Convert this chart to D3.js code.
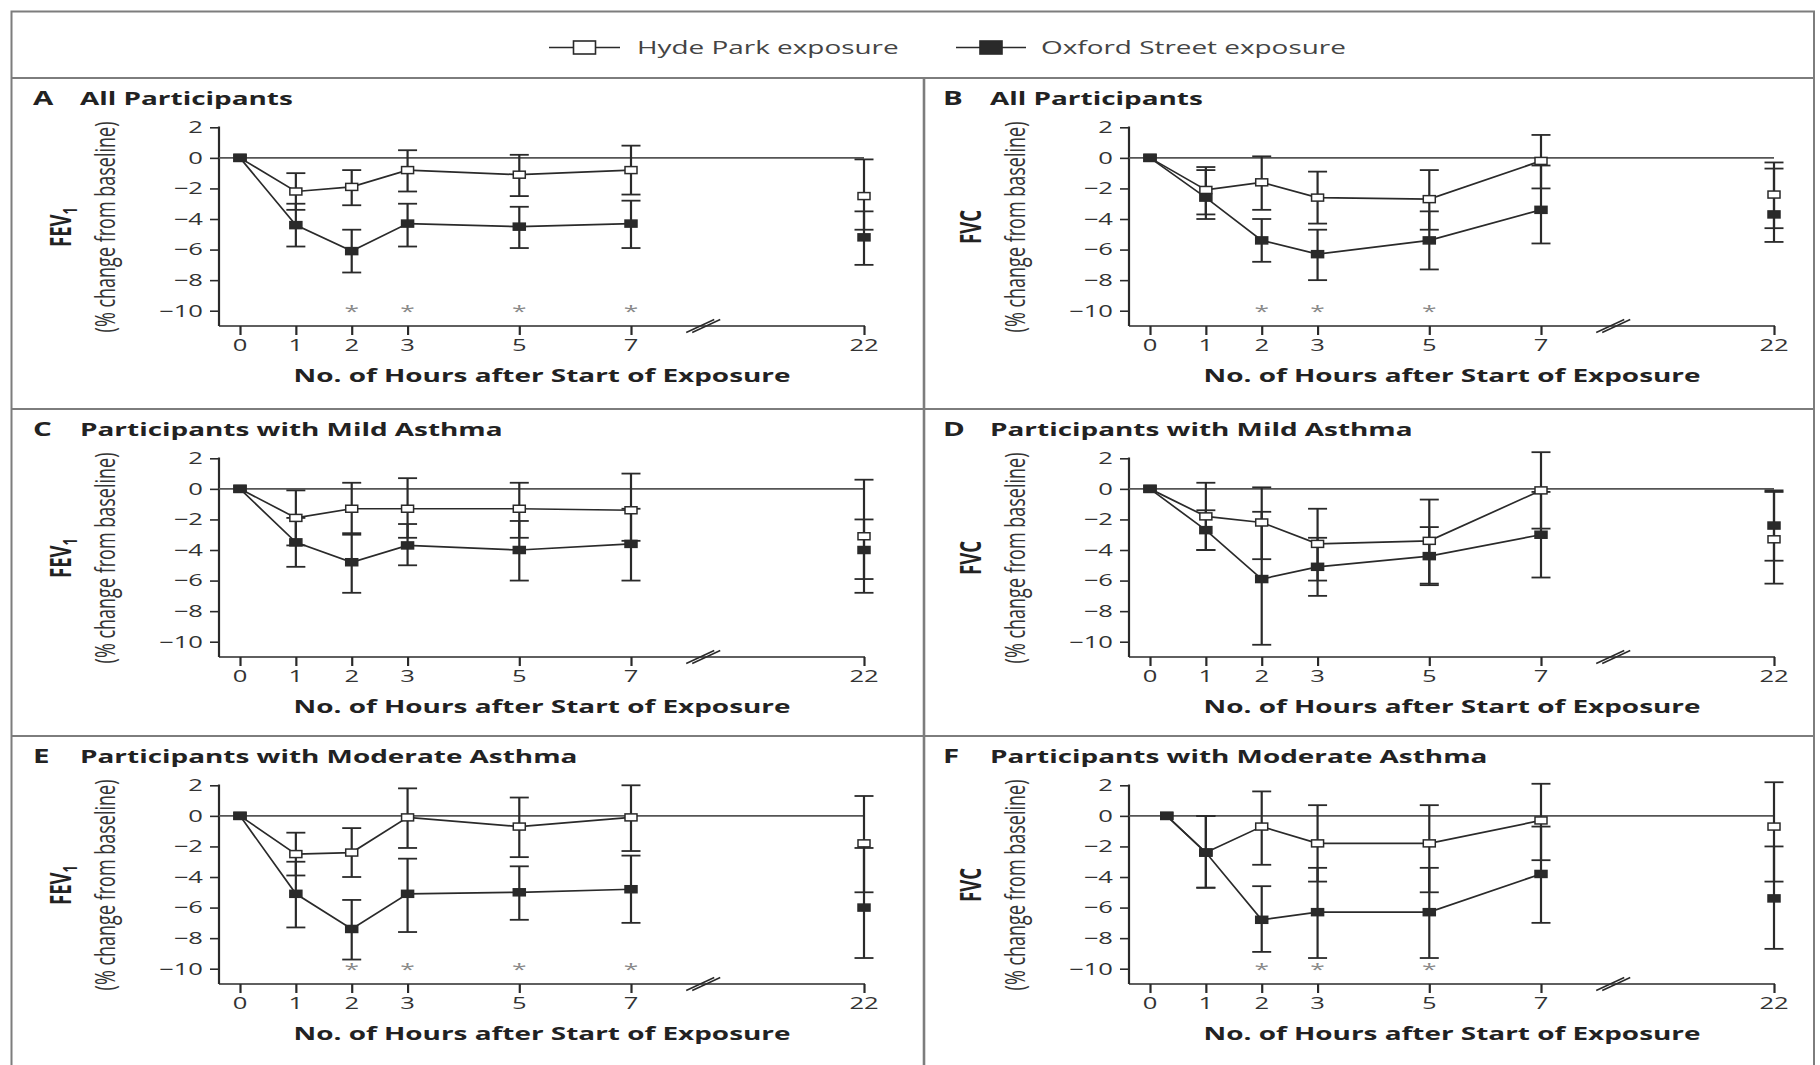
<!DOCTYPE html>
<html>
<head>
<meta charset="utf-8">
<script src="https://cdn.jsdelivr.net/npm/d3@7"></script>
<style>
  html, body { margin: 0; padding: 0; background: #fff; }
  svg { display: block; }
  text { font-family: "Open Sans", "Noto Sans", sans-serif; fill: #333; }
</style>
</head>
<body>
<svg id="chart" width="1820" height="1065"></svg>
<script>
// ---------- DATA ----------
const hours = [0, 1, 2, 3, 5, 7, 22];
const hoursF = [0.3, 1, 2, 3, 5, 7, 22];
const xTickHours = [0, 1, 2, 3, 5, 7, 22];
const yTickValues = [2, 0, -2, -4, -6, -8, -10];
const seriesNames = ["Hyde Park exposure", "Oxford Street exposure"];
const panelLetters = ["A", "B", "C", "D", "E", "F"];
const panelTitles = ["All Participants", "All Participants",
  "Participants with Mild Asthma", "Participants with Mild Asthma",
  "Participants with Moderate Asthma", "Participants with Moderate Asthma"];
const yMeasures = ["FEV", "FVC", "FEV", "FVC", "FEV", "FVC"];
const yMeasureSub = ["1", "", "1", "", "1", ""];
const yUnit = "(% change from baseline)";
const xTitle = "No. of Hours after Start of Exposure";

// Panel A — FEV1, all participants
const hydeA    = [0, -2.2, -1.9, -0.8, -1.1, -0.8, -2.5];
const hydeALo  = [null, -3.4, -3.1, -2.2, -2.5, -2.4, -4.7];
const hydeAHi  = [null, -1.0, -0.8, 0.5, 0.2, 0.8, -0.1];
const oxfA     = [0, -4.4, -6.1, -4.3, -4.5, -4.3, -5.2];
const oxfALo   = [null, -5.8, -7.5, -5.8, -5.9, -5.9, -7.0];
const oxfAHi   = [null, -3.0, -4.7, -3.0, -3.2, -2.8, -3.5];
const sigA     = [2, 3, 5, 7];
// Panel B — FVC, all participants
const hydeB    = [0, -2.1, -1.6, -2.6, -2.7, -0.2, -2.4];
const hydeBLo  = [null, -3.7, -3.4, -4.3, -4.7, -2.0, -4.6];
const hydeBHi  = [null, -0.6, 0.1, -0.9, -0.8, 1.5, -0.3];
const oxfB     = [0, -2.6, -5.4, -6.3, -5.4, -3.4, -3.7];
const oxfBLo   = [null, -4.0, -6.8, -8.0, -7.3, -5.6, -5.5];
const oxfBHi   = [null, -0.8, -4.0, -4.7, -3.5, -0.5, -0.7];
const sigB     = [2, 3, 5];
// Panel C — FEV1, mild asthma
const hydeC    = [0, -1.9, -1.3, -1.3, -1.3, -1.4, -3.1];
const hydeCLo  = [null, -3.7, -3.0, -3.2, -3.2, -3.4, -6.8];
const hydeCHi  = [null, -0.1, 0.4, 0.7, 0.4, 1.0, 0.6];
const oxfC     = [0, -3.5, -4.8, -3.7, -4.0, -3.6, -4.0];
const oxfCLo   = [null, -5.1, -6.8, -5.0, -6.0, -6.0, -5.9];
const oxfCHi   = [null, -1.9, -2.9, -2.3, -2.1, -1.3, -2.0];
const sigC     = [];
// Panel D — FVC, mild asthma
const hydeD    = [0, -1.8, -2.2, -3.6, -3.4, -0.1, -3.3];
const hydeDLo  = [null, -4.0, -4.6, -6.0, -6.2, -2.6, -6.2];
const hydeDHi  = [null, 0.4, 0.1, -1.3, -0.7, 2.4, -0.1];
const oxfD     = [0, -2.7, -5.9, -5.1, -4.4, -3.0, -2.4];
const oxfDLo   = [null, -4.0, -10.2, -7.0, -6.3, -5.8, -4.7];
const oxfDHi   = [null, -1.4, -1.5, -3.2, -2.5, -0.2, -0.2];
const sigD     = [];
// Panel E — FEV1, moderate asthma
const hydeE    = [0, -2.5, -2.4, -0.1, -0.7, -0.1, -1.8];
const hydeELo  = [null, -3.9, -4.0, -2.1, -2.7, -2.3, -5.0];
const hydeEHi  = [null, -1.1, -0.8, 1.8, 1.2, 2.0, 1.3];
const oxfE     = [0, -5.1, -7.4, -5.1, -5.0, -4.8, -6.0];
const oxfELo   = [null, -7.3, -9.4, -7.6, -6.8, -7.0, -9.3];
const oxfEHi   = [null, -3.0, -5.5, -2.8, -3.3, -2.6, -2.1];
const sigE     = [2, 3, 5, 7];
// Panel F — FVC, moderate asthma
const hydeF    = [0, -2.4, -0.7, -1.8, -1.8, -0.3, -0.7];
const hydeFLo  = [null, -4.7, -3.2, -4.3, -5.0, -2.9, -4.3];
const hydeFHi  = [null, 0.0, 1.6, 0.7, 0.7, 2.1, 2.2];
const oxfF     = [0, -2.4, -6.8, -6.3, -6.3, -3.8, -5.4];
const oxfFLo   = [null, -4.7, -8.9, -9.3, -9.3, -7.0, -8.7];
const oxfFHi   = [null, 0.0, -4.6, -3.4, -3.4, -0.7, -2.0];
const sigF     = [2, 3, 5];

const panelData = [
  { x: hours,  hyde: [hydeA, hydeALo, hydeAHi], oxf: [oxfA, oxfALo, oxfAHi], sig: sigA },
  { x: hours,  hyde: [hydeB, hydeBLo, hydeBHi], oxf: [oxfB, oxfBLo, oxfBHi], sig: sigB },
  { x: hours,  hyde: [hydeC, hydeCLo, hydeCHi], oxf: [oxfC, oxfCLo, oxfCHi], sig: sigC },
  { x: hours,  hyde: [hydeD, hydeDLo, hydeDHi], oxf: [oxfD, oxfDLo, oxfDHi], sig: sigD },
  { x: hours,  hyde: [hydeE, hydeELo, hydeEHi], oxf: [oxfE, oxfELo, oxfEHi], sig: sigE },
  { x: hoursF, hyde: [hydeF, hydeFLo, hydeFHi], oxf: [oxfF, oxfFLo, oxfFHi], sig: sigF }
];

// ---------- LAYOUT / STYLE ----------
const S = 1.55;               // horizontal text stretch of the reference
const INK = "#2a2a2a";
const FRAME = "#7d7d7d";
const colOffset = [0, 910];
const rowTop = [78, 409, 736];

const svg = d3.select("#chart");
svg.append("rect").attr("width", 1820).attr("height", 1065).attr("fill", "#fff");

function stext(g, x, y, str, opt = {}) {
  const t = g.append("text")
    .attr("transform", `translate(${x},${y}) scale(${S},1)` + (opt.rotate ? ` rotate(${opt.rotate})` : ""))
    .attr("text-anchor", opt.anchor || "start")
    .attr("font-size", opt.size || 18)
    .attr("font-weight", opt.weight || "normal")
    .style("fill", opt.fill || "#333")
    .text(str);
  return t;
}

// ---------- FRAME ----------
const frame = svg.append("g").attr("stroke", FRAME).attr("stroke-width", 2).attr("fill", "none");
frame.append("path").attr("d", "M11.5,1065 V11.5 H1814 V1065");
frame.append("line").attr("x1", 11.5).attr("x2", 1814).attr("y1", 78).attr("y2", 78);
frame.append("line").attr("x1", 11.5).attr("x2", 1814).attr("y1", 409).attr("y2", 409);
frame.append("line").attr("x1", 11.5).attr("x2", 1814).attr("y1", 736).attr("y2", 736);
frame.append("line").attr("x1", 924).attr("x2", 924).attr("y1", 78).attr("y2", 1065).attr("stroke-width", 2.6);

// ---------- LEGEND ----------
const legend = svg.append("g");
const legendItems = [
  { name: seriesNames[0], x1: 549, x2: 620, fill: "#fff", tx: 637 },
  { name: seriesNames[1], x1: 956, x2: 1026, fill: INK, tx: 1041 }
];
legendItems.forEach(it => {
  const cy = 47.5;
  legend.append("line").attr("x1", it.x1).attr("x2", it.x2).attr("y1", cy).attr("y2", cy)
    .attr("stroke", INK).attr("stroke-width", 1.6);
  const cx = (it.x1 + it.x2) / 2;
  legend.append("rect").attr("x", cx - 11).attr("y", cy - 6.5).attr("width", 22).attr("height", 13)
    .attr("fill", it.fill).attr("stroke", INK).attr("stroke-width", 1.6);
  stext(legend, it.tx, cy + 6.5, it.name, { size: 18, fill: "#444" });
});

// ---------- PANELS ----------
panelData.forEach((pd, i) => {
  const ox = colOffset[i % 2];
  const T = rowTop[Math.floor(i / 2)];
  const g = svg.append("g").attr("transform", `translate(${ox},${T})`);

  const x = d3.scaleLinear().domain([0, 7, 22]).range([240, 631, 864]);
  const y = d3.scaleLinear().domain([-11, 2]).range([248, 49.3]);
  const axisX = 219;

  // title
  stext(g, 33, 27, panelLetters[i], { size: 19, weight: "bold", fill: "#222" });
  stext(g, 80, 27, panelTitles[i], { size: 18, weight: "bold", fill: "#222" });

  // y axis (ticks via d3 axis, labels stretched like the reference)
  const yAxis = d3.axisLeft(y).tickValues(yTickValues).tickSize(9).tickFormat("");
  const ya = g.append("g").attr("transform", `translate(${axisX},0)`).call(yAxis);
  ya.select(".domain").remove();
  ya.selectAll(".tick line").attr("stroke", INK).attr("stroke-width", 1.6);
  g.append("line").attr("x1", axisX).attr("x2", axisX).attr("y1", y(2) - 0.8).attr("y2", y(-11))
    .attr("stroke", INK).attr("stroke-width", 2.2);
  yTickValues.forEach(v => {
    stext(g, 203, y(v) + 5.8, v < 0 ? "\u2212" + Math.abs(v) : String(v), { size: 16.5, anchor: "end", fill: "#333" });
  });

  // x axis
  const xAxis = d3.axisBottom(x).tickValues(xTickHours).tickSize(9).tickFormat("");
  const xa = g.append("g").attr("transform", `translate(0,${y(-11)})`).call(xAxis);
  xa.select(".domain").remove();
  xa.selectAll(".tick line").attr("stroke", INK).attr("stroke-width", 2.2);
  g.append("line").attr("x1", axisX).attr("x2", x(22) + 1).attr("y1", y(-11)).attr("y2", y(-11))
    .attr("stroke", INK).attr("stroke-width", 1.6);
  xTickHours.forEach(h => {
    stext(g, x(h), 273, String(h), { size: 16.5, anchor: "middle", fill: "#333" });
  });
  // axis break
  const bx = x(7) + 0.31 * (x(22) - x(7));
  [-3, 3].forEach(d => {
    g.append("line").attr("x1", bx + d - 14).attr("x2", bx + d + 14)
      .attr("y1", y(-11) + 6.5).attr("y2", y(-11) - 6.5)
      .attr("stroke", INK).attr("stroke-width", 1.5);
  });
  stext(g, 542, 304, xTitle, { size: 18, weight: "bold", anchor: "middle", fill: "#222" });

  // y title
  const ytBold = g.append("text")
    .attr("transform", `translate(71,${149}) scale(${S},1) rotate(-90)`)
    .attr("text-anchor", "middle").attr("font-size", 18.5).attr("font-weight", "bold").style("fill", "#222");
  ytBold.append("tspan").text(yMeasures[i]);
  if (yMeasureSub[i]) ytBold.append("tspan").attr("font-size", 13).attr("dy", 4).text(yMeasureSub[i]);
  stext(g, 115, 149, yUnit, { size: 18, anchor: "middle", rotate: -90, fill: "#333" });

  // zero line
  g.append("line").attr("x1", axisX).attr("x2", x(22)).attr("y1", y(0)).attr("y2", y(0))
    .attr("stroke", "#555").attr("stroke-width", 1.6);

  // significance stars
  pd.sig.forEach(h => {
    stext(g, x(h), y(-9.8) + 9, "*", { size: 17, anchor: "middle", fill: "#8a8a8a" });
  });

  const lineGen = d3.line().x(d => x(d.t)).y(d => y(d.m));
  const seriesList = [
    { key: "hyde", arr: pd.hyde, fill: "#fff" },
    { key: "oxf", arr: pd.oxf, fill: INK }
  ];
  const pts = seriesList.map(s => pd.x.map((t, k) => ({ t, m: s.arr[0][k], lo: s.arr[1][k], hi: s.arr[2][k] })));

  // connecting lines (hours 0-7 only)
  pts.forEach(p => {
    g.append("path").datum(p.filter(d => d.t <= 7)).attr("d", lineGen)
      .attr("fill", "none").attr("stroke", INK).attr("stroke-width", 1.7);
  });
  // error bars
  pts.forEach(p => {
    const eb = g.append("g").selectAll("g").data(p.filter(d => d.lo !== null)).join("g");
    eb.append("line").attr("x1", d => x(d.t)).attr("x2", d => x(d.t))
      .attr("y1", d => y(d.lo)).attr("y2", d => y(d.hi))
      .attr("stroke", INK).attr("stroke-width", 2.2);
    eb.append("line").attr("x1", d => x(d.t) - 9.5).attr("x2", d => x(d.t) + 9.5)
      .attr("y1", d => y(d.lo)).attr("y2", d => y(d.lo)).attr("stroke", INK).attr("stroke-width", 1.8);
    eb.append("line").attr("x1", d => x(d.t) - 9.5).attr("x2", d => x(d.t) + 9.5)
      .attr("y1", d => y(d.hi)).attr("y2", d => y(d.hi)).attr("stroke", INK).attr("stroke-width", 1.8);
  });
  // markers
  pts.forEach((p, si) => {
    g.append("g").selectAll("rect").data(p).join("rect")
      .attr("x", d => x(d.t) - 6).attr("y", d => y(d.m) - 3.5)
      .attr("width", 12).attr("height", 7)
      .attr("fill", seriesList[si].fill).attr("stroke", INK).attr("stroke-width", 1.5);
  });
});
</script>
</body>
</html>
